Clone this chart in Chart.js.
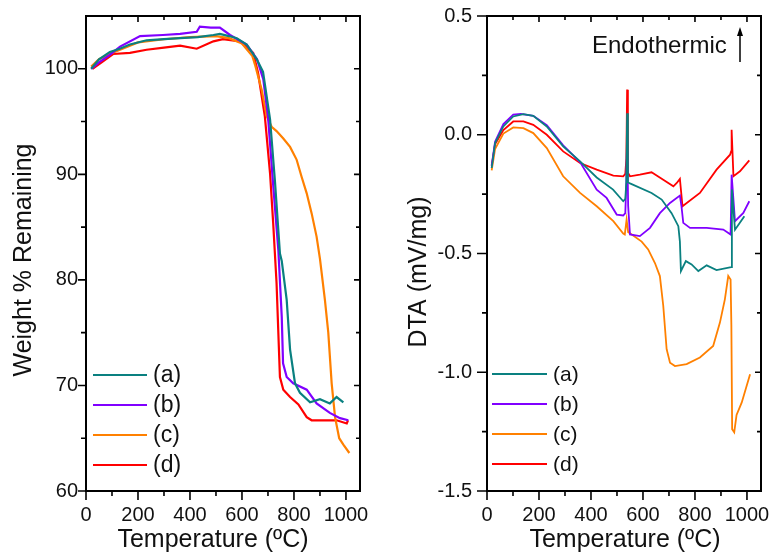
<!DOCTYPE html>
<html>
<head>
<meta charset="utf-8">
<script src="https://cdn.jsdelivr.net/npm/chart.js@4/dist/chart.umd.min.js"></script>
<style>
html, body { margin: 0; padding: 0; background: #fff; }
#wrap { position: relative; width: 770px; height: 555px; }
canvas { position: absolute; top: 0; }
#tga { left: 0; }
#dta { left: 385px; }
</style>
</head>
<body>
<div id="wrap">
  <canvas id="tga" width="385" height="555"></canvas>
  <canvas id="dta" width="385" height="555"></canvas>
</div>
<script>
// series labels and colours
const labels = ['(a)', '(b)', '(c)', '(d)'];
const colors = ['#0a8080', '#8000ff', '#ff8000', '#ff0000'];

// axis ticks
const tempTicks = [0, 200, 400, 600, 800, 1000];
const tempMinor = [100, 300, 500, 700, 900];
const weightTicks = [60, 70, 80, 90, 100];
const weightMinor = [65, 75, 85, 95];
const dtaTicks = [-1.5, -1.0, -0.5, 0.0, 0.5];
const dtaMinor = [-1.25, -0.75, -0.25, 0.25];

// TGA, weight % remaining
const tgaTempA = [20, 50, 92, 130, 169, 233, 300, 362, 430, 490, 515, 550, 580, 618, 657, 681, 708, 727, 746, 753, 772, 785, 804, 823, 862, 900, 938, 964, 990];
const tgaA = [100.0, 100.9, 101.6, 101.9, 102.3, 102.7, 102.8, 102.9, 103.0, 103.2, 103.3, 103.1, 102.9, 102.3, 100.9, 99.7, 95.2, 89.3, 82.5, 81.8, 78.1, 73.4, 70.2, 69.3, 68.4, 68.7, 68.3, 68.9, 68.4];

const tgaTempB = [20, 50, 90, 131, 208, 296, 362, 426, 438, 480, 515, 554, 618, 658, 682, 700, 720, 740, 753, 758, 772, 797, 849, 887, 938, 977, 1009];
const tgaB = [100.0, 100.6, 101.3, 102.1, 103.1, 103.2, 103.3, 103.5, 104.0, 103.9, 103.9, 103.2, 102.3, 100.9, 99.0, 95.5, 89.0, 82.8, 76.5, 72.1, 70.8, 70.2, 69.6, 68.3, 67.4, 66.9, 66.7];

const tgaTempC = [20, 50, 100, 200, 300, 400, 500, 550, 600, 640, 650, 676, 695, 714, 733, 759, 785, 810, 829, 849, 868, 887, 900, 919, 932, 945, 958, 974, 990, 1013];
const tgaC = [100.2, 100.9, 101.5, 102.5, 102.8, 103.0, 103.1, 102.9, 102.4, 101.2, 100.4, 98.0, 95.5, 94.5, 94.1, 93.4, 92.6, 91.4, 89.8, 88.2, 86.3, 84.1, 82.0, 78.1, 75.0, 70.2, 67.0, 65.0, 64.4, 63.6];

const tgaTempD = [25, 60, 104, 169, 233, 300, 362, 426, 490, 527, 592, 643, 662, 688, 708, 720, 733, 746, 759, 785, 817, 849, 868, 913, 964, 1003, 1008];
const tgaD = [100.0, 100.6, 101.4, 101.5, 101.8, 102.0, 102.2, 101.9, 102.6, 102.8, 102.6, 101.5, 99.6, 95.5, 90.1, 85.4, 79.7, 70.8, 69.6, 68.9, 68.2, 67.0, 66.7, 66.7, 66.7, 66.4, 66.7];

// DTA, mV/mg
const dtaTempA = [18, 31, 63, 101, 140, 178, 230, 293, 358, 422, 485, 524, 532, 536, 539, 542, 550, 633, 672, 710, 736, 742, 746, 765, 787, 813, 845, 883, 939, 942, 954, 990];
const dtaA = [-0.14, -0.035, 0.035, 0.077, 0.087, 0.08, 0.035, -0.049, -0.112, -0.18, -0.231, -0.28, -0.27, -0.2, 0.091, -0.2, -0.205, -0.245, -0.273, -0.33, -0.385, -0.45, -0.574, -0.532, -0.546, -0.574, -0.55, -0.57, -0.557, -0.23, -0.40, -0.343];

const dtaTempB = [18, 31, 63, 101, 130, 178, 230, 293, 358, 422, 460, 499, 524, 532, 536, 539, 543, 550, 588, 627, 665, 704, 742, 748, 755, 781, 845, 909, 937, 941, 954, 986, 1009];
const dtaB = [-0.13, -0.03, 0.045, 0.085, 0.088, 0.08, 0.04, -0.045, -0.115, -0.231, -0.266, -0.336, -0.34, -0.33, -0.2, 0.0, -0.3, -0.42, -0.427, -0.392, -0.33, -0.287, -0.256, -0.3, -0.371, -0.392, -0.392, -0.399, -0.42, -0.168, -0.364, -0.329, -0.28];

const dtaTempC = [18, 31, 63, 101, 140, 178, 230, 293, 358, 422, 486, 524, 530, 537, 543, 550, 595, 620, 646, 665, 678, 691, 704, 723, 768, 819, 870, 896, 915, 928, 937, 940, 943, 951, 960, 980, 1012];
const dtaC = [-0.15, -0.06, 0.005, 0.031, 0.028, 0.007, -0.056, -0.175, -0.245, -0.301, -0.364, -0.416, -0.42, -0.357, -0.41, -0.415, -0.45, -0.483, -0.54, -0.595, -0.72, -0.903, -0.96, -0.974, -0.966, -0.938, -0.889, -0.791, -0.693, -0.595, -0.61, -0.8, -1.24, -1.253, -1.18, -1.127, -1.008];

const dtaTempD = [18, 31, 63, 101, 140, 178, 230, 293, 358, 422, 486, 524, 532, 536, 539, 542, 550, 588, 633, 678, 717, 730, 742, 752, 819, 883, 935, 939, 941, 948, 973, 1009];
const dtaD = [-0.13, -0.04, 0.02, 0.056, 0.056, 0.042, 0.0, -0.07, -0.119, -0.147, -0.172, -0.175, -0.165, -0.1, 0.19, -0.16, -0.175, -0.168, -0.158, -0.189, -0.217, -0.203, -0.186, -0.301, -0.245, -0.147, -0.084, -0.07, 0.021, -0.175, -0.154, -0.108];

Chart.defaults.font.family = '"Liberation Sans", Arial, sans-serif';
Chart.defaults.color = '#111';

function pts(xs, ys) {
    return xs.map((x, i) => ({ x: x, y: ys[i] }));
}

function makeSets(pairs, width) {
    return pairs.map((p, i) => ({
        label: labels[i],
        data: pts(p[0], p[1]),
        borderColor: colors[i],
        borderWidth: width,
        pointRadius: 0,
        tension: 0,
        fill: false
    }));
}

// box, ticks on all four sides, titles and the in-plot legend
const frameTicks = {
    id: 'frameTicks',
    afterDraw(chart, args, o) {
        const ctx = chart.ctx;
        const a = chart.chartArea;
        const x = chart.scales.x, y = chart.scales.y;
        ctx.save();
        ctx.strokeStyle = '#000';
        ctx.lineWidth = 1.6;
        ctx.beginPath();
        o.xMajor.forEach(v => {
            const p = x.getPixelForValue(v);
            ctx.moveTo(p, a.bottom); ctx.lineTo(p, a.bottom + 9);
            ctx.moveTo(p, a.top); ctx.lineTo(p, a.top + 6);
        });
        o.xMinor.forEach(v => {
            const p = x.getPixelForValue(v);
            ctx.moveTo(p, a.bottom); ctx.lineTo(p, a.bottom + 5);
            ctx.moveTo(p, a.top); ctx.lineTo(p, a.top + 4);
        });
        o.yMajor.forEach(v => {
            const p = y.getPixelForValue(v);
            ctx.moveTo(a.left, p); ctx.lineTo(a.left - o.yTickLen, p);
            ctx.moveTo(a.right, p); ctx.lineTo(a.right - 6, p);
        });
        o.yMinor.forEach(v => {
            const p = y.getPixelForValue(v);
            ctx.moveTo(a.left, p); ctx.lineTo(a.left - 5, p);
            ctx.moveTo(a.right, p); ctx.lineTo(a.right - 4, p);
        });
        ctx.stroke();
        ctx.lineWidth = 2;
        ctx.strokeRect(a.left, a.top, a.right - a.left, a.bottom - a.top);

        // axis titles
        ctx.fillStyle = '#111';
        ctx.font = '25px "Liberation Sans", Arial, sans-serif';
        ctx.textAlign = 'center';
        ctx.textBaseline = 'alphabetic';
        ctx.fillText(o.xTitle, o.xTitlePos[0], o.xTitlePos[1]);
        ctx.save();
        ctx.translate(o.yTitlePos[0], o.yTitlePos[1]);
        ctx.rotate(-Math.PI / 2);
        ctx.fillText(o.yTitle, 0, 0);
        ctx.restore();

        // legend
        const lg = o.legend;
        ctx.font = lg.size + 'px "Liberation Sans", Arial, sans-serif';
        ctx.textAlign = 'left';
        ctx.textBaseline = 'middle';
        chart.data.datasets.forEach((ds, i) => {
            const ly = lg.y + i * lg.dy;
            ctx.strokeStyle = ds.borderColor;
            ctx.lineWidth = 2;
            ctx.beginPath();
            ctx.moveTo(lg.x1, ly); ctx.lineTo(lg.x2, ly);
            ctx.stroke();
            ctx.fillStyle = '#111';
            ctx.fillText(ds.label, lg.tx, ly + 1);
        });

        if (o.note) {
            ctx.font = '24px "Liberation Sans", Arial, sans-serif';
            ctx.textAlign = 'left';
            ctx.textBaseline = 'alphabetic';
            ctx.fillText(o.note.text, o.note.x, o.note.y);
            const ax = o.note.ax;
            ctx.strokeStyle = '#000';
            ctx.lineWidth = 1.5;
            ctx.beginPath();
            ctx.moveTo(ax, o.note.ay2); ctx.lineTo(ax, o.note.ay1 + 6);
            ctx.stroke();
            ctx.fillStyle = '#000';
            ctx.beginPath();
            ctx.moveTo(ax, o.note.ay1);
            ctx.lineTo(ax - 3, o.note.ay1 + 9);
            ctx.lineTo(ax + 3, o.note.ay1 + 9);
            ctx.closePath();
            ctx.fill();
        }
        ctx.restore();
    }
};

function buildChart(id, sets, yMin, yMax, yTicks, yFmt, yWidth, yPad, pad, frameOpts) {
    return new Chart(document.getElementById(id), {
        type: 'line',
        data: { datasets: sets },
        plugins: [frameTicks],
        options: {
            responsive: false,
            animation: false,
            devicePixelRatio: 1,
            layout: { padding: pad },
            plugins: {
                legend: { display: false },
                tooltip: { enabled: false },
                frameTicks: frameOpts
            },
            scales: {
                x: {
                    type: 'linear',
                    min: 0,
                    max: 1054,
                    grid: { display: false, drawTicks: false },
                    border: { display: false },
                    afterBuildTicks: s => { s.ticks = tempTicks.map(v => ({ value: v })); },
                    afterFit: s => { s.height = 64; s.paddingLeft = 0; s.paddingRight = 0; },
                    ticks: { font: { size: 20 }, padding: 12, maxRotation: 0, autoSkip: false, callback: v => String(v) }
                },
                y: {
                    type: 'linear',
                    min: yMin,
                    max: yMax,
                    grid: { display: false, drawTicks: false },
                    border: { display: false },
                    afterBuildTicks: s => { s.ticks = yTicks.map(v => ({ value: v })); },
                    afterFit: s => { s.width = yWidth; s.paddingTop = 0; s.paddingBottom = 0; },
                    ticks: { font: { size: 20 }, padding: yPad, autoSkip: false, callback: yFmt }
                }
            }
        }
    });
}

buildChart('tga',
    makeSets([[tgaTempA, tgaA], [tgaTempB, tgaB], [tgaTempC, tgaC], [tgaTempD, tgaD]], 2.2),
    60, 105, weightTicks, v => String(v), 86, 8,
    { left: 0, right: 25, top: 16, bottom: 0 },
    {
        xMajor: tempTicks, xMinor: tempMinor, yMajor: weightTicks, yMinor: weightMinor, yTickLen: 8,
        xTitle: 'Temperature (ºC)', xTitlePos: [213, 547],
        yTitle: 'Weight % Remaining', yTitlePos: [31, 260],
        legend: { x1: 93, x2: 147, tx: 153, y: 375, dy: 30, size: 23 }
    });

buildChart('dta',
    makeSets([[dtaTempA, dtaA], [dtaTempB, dtaB], [dtaTempC, dtaC], [dtaTempD, dtaD]], 1.8),
    -1.5, 0.5, dtaTicks, v => v.toFixed(1), 102, 15,
    { left: 0, right: 9, top: 16, bottom: 0 },
    {
        xMajor: tempTicks, xMinor: tempMinor, yMajor: dtaTicks, yMinor: dtaMinor, yTickLen: 10,
        xTitle: 'Temperature (ºC)', xTitlePos: [240, 547],
        yTitle: 'DTA (mV/mg)', yTitlePos: [41, 272],
        legend: { x1: 107, x2: 162, tx: 168, y: 374, dy: 30, size: 21 },
        note: { text: 'Endothermic', x: 207, y: 53, ax: 355, ay1: 27, ay2: 62 }
    });
</script>
</body>
</html>
